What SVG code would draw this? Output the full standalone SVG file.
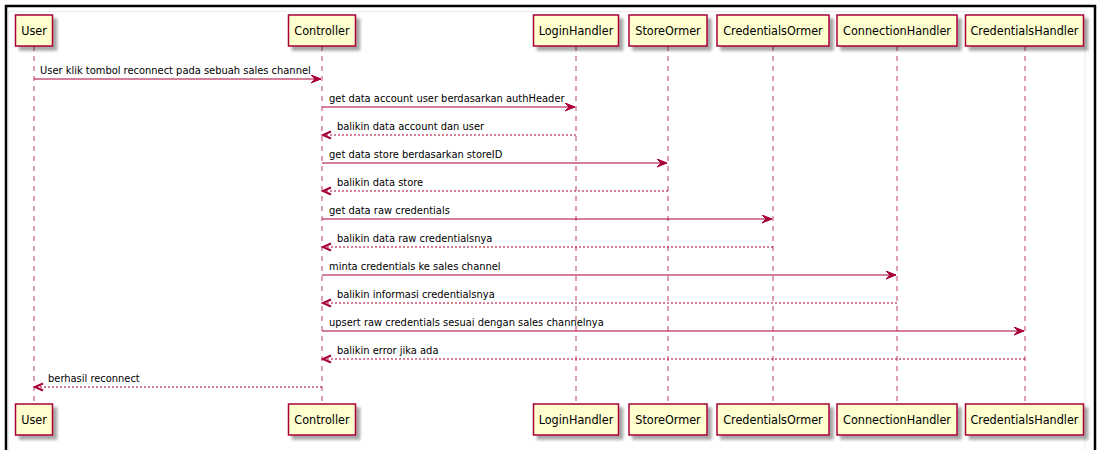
<svg xmlns="http://www.w3.org/2000/svg" width="1097" height="450" viewBox="0 0 1097 450">
  <defs>
    <filter id="shadow" x="-20%" y="-20%" width="150%" height="160%">
      <feGaussianBlur in="SourceAlpha" stdDeviation="1.8"/>
      <feOffset dx="4" dy="4" result="b"/>
      <feComponentTransfer><feFuncA type="linear" slope="0.35"/></feComponentTransfer>
      <feMerge><feMergeNode/><feMergeNode in="SourceGraphic"/></feMerge>
    </filter>
    <marker id="head" markerWidth="12" markerHeight="10" refX="10" refY="4" orient="auto" markerUnits="userSpaceOnUse">
      <polygon points="0,0 10,4 0,8 4,4" fill="#A80036" stroke="#A80036" stroke-width="1"/>
    </marker>
    <marker id="open" markerWidth="12" markerHeight="12" refX="9" refY="5" orient="auto" markerUnits="userSpaceOnUse">
      <polyline points="1,1.5 9,5 1,8.5" fill="none" stroke="#A80036" stroke-width="2"/>
    </marker>
  </defs>
  <style>
    .box { fill: #FEFECE; stroke: #A80036; stroke-width: 1.5; }
    .pname { font-family: "DejaVu Sans Condensed", "DejaVu Sans", sans-serif; font-stretch: condensed; font-size: 12.5px; fill: #000; text-anchor: middle; }
    .life { stroke: #A80036; stroke-width: 1; stroke-dasharray: 5,5; fill: none; opacity: 0.75; }
    .msg { stroke: #A80036; stroke-width: 1; fill: none; }
    .ret { stroke: #A80036; stroke-width: 1; fill: none; stroke-dasharray: 2,2; }
    .lbl { font-family: "DejaVu Sans Condensed", "DejaVu Sans", sans-serif; font-stretch: condensed; font-size: 11px; fill: #000; }
  </style>
  <rect x="0" y="0" width="1097" height="450" fill="#fff"/>
  <rect x="8.5" y="11.5" width="1076.5" height="450" fill="none" stroke="#ececec" stroke-width="1"/>
  <rect x="6" y="6" width="1089" height="500" fill="none" stroke="#000" stroke-width="2.5"/>

  <g id="lifelines">
    <line class="life" x1="34" y1="46" x2="34" y2="404"/>
    <line class="life" x1="322" y1="46" x2="322" y2="404"/>
    <line class="life" x1="576" y1="46" x2="576" y2="404"/>
    <line class="life" x1="668" y1="46" x2="668" y2="404"/>
    <line class="life" x1="773" y1="46" x2="773" y2="404"/>
    <line class="life" x1="897" y1="46" x2="897" y2="404"/>
    <line class="life" x1="1025" y1="46" x2="1025" y2="404"/>
  </g>

  <g id="User">
    <rect class="box" x="15.5" y="15" width="37" height="31" filter="url(#shadow)"/>
    <text class="pname" x="34" y="35">User</text>
    <rect class="box" x="15.5" y="404" width="37" height="31" filter="url(#shadow)"/>
    <text class="pname" x="34" y="424">User</text>
  </g>
  <g id="Controller">
    <rect class="box" x="288.5" y="15" width="67" height="31" filter="url(#shadow)"/>
    <text class="pname" x="322" y="35">Controller</text>
    <rect class="box" x="288.5" y="404" width="67" height="31" filter="url(#shadow)"/>
    <text class="pname" x="322" y="424">Controller</text>
  </g>
  <g id="LoginHandler">
    <rect class="box" x="533.5" y="15" width="85" height="31" filter="url(#shadow)"/>
    <text class="pname" x="576" y="35">LoginHandler</text>
    <rect class="box" x="533.5" y="404" width="85" height="31" filter="url(#shadow)"/>
    <text class="pname" x="576" y="424">LoginHandler</text>
  </g>
  <g id="StoreOrmer">
    <rect class="box" x="629" y="15" width="78" height="31" filter="url(#shadow)"/>
    <text class="pname" x="668" y="35">StoreOrmer</text>
    <rect class="box" x="629" y="404" width="78" height="31" filter="url(#shadow)"/>
    <text class="pname" x="668" y="424">StoreOrmer</text>
  </g>
  <g id="CredentialsOrmer">
    <rect class="box" x="717" y="15" width="112" height="31" filter="url(#shadow)"/>
    <text class="pname" x="773" y="35">CredentialsOrmer</text>
    <rect class="box" x="717" y="404" width="112" height="31" filter="url(#shadow)"/>
    <text class="pname" x="773" y="424">CredentialsOrmer</text>
  </g>
  <g id="ConnectionHandler">
    <rect class="box" x="837" y="15" width="120" height="31" filter="url(#shadow)"/>
    <text class="pname" x="897" y="35">ConnectionHandler</text>
    <rect class="box" x="837" y="404" width="120" height="31" filter="url(#shadow)"/>
    <text class="pname" x="897" y="424">ConnectionHandler</text>
  </g>
  <g id="CredentialsHandler">
    <rect class="box" x="965.5" y="15" width="118" height="31" filter="url(#shadow)"/>
    <text class="pname" x="1024.5" y="35">CredentialsHandler</text>
    <rect class="box" x="965.5" y="404" width="118" height="31" filter="url(#shadow)"/>
    <text class="pname" x="1024.5" y="424">CredentialsHandler</text>
  </g>

  <g id="connectors">
    <line class="msg" x1="34" y1="79" x2="321" y2="79" marker-end="url(#head)"/>
    <text class="lbl" x="40" y="73.5">User klik tombol reconnect pada sebuah sales channel</text>

    <line class="msg" x1="322" y1="107" x2="575" y2="107" marker-end="url(#head)"/>
    <text class="lbl" x="329" y="101.5">get data account user berdasarkan authHeader</text>

    <line class="ret" x1="576" y1="135" x2="323" y2="135" marker-end="url(#open)"/>
    <text class="lbl" x="337" y="129.5">balikin data account dan user</text>

    <line class="msg" x1="322" y1="163" x2="667" y2="163" marker-end="url(#head)"/>
    <text class="lbl" x="329" y="157.5">get data store berdasarkan storeID</text>

    <line class="ret" x1="668" y1="191" x2="323" y2="191" marker-end="url(#open)"/>
    <text class="lbl" x="337" y="185.5">balikin data store</text>

    <line class="msg" x1="322" y1="219" x2="772" y2="219" marker-end="url(#head)"/>
    <text class="lbl" x="329" y="213.5">get data raw credentials</text>

    <line class="ret" x1="773" y1="247" x2="323" y2="247" marker-end="url(#open)"/>
    <text class="lbl" x="337" y="241.5">balikin data raw credentialsnya</text>

    <line class="msg" x1="322" y1="275" x2="896" y2="275" marker-end="url(#head)"/>
    <text class="lbl" x="329" y="269.5">minta credentials ke sales channel</text>

    <line class="ret" x1="897" y1="303" x2="323" y2="303" marker-end="url(#open)"/>
    <text class="lbl" x="337" y="297.5">balikin informasi credentialsnya</text>

    <line class="msg" x1="322" y1="331" x2="1024" y2="331" marker-end="url(#head)"/>
    <text class="lbl" x="329" y="325.5">upsert raw credentials sesuai dengan sales channelnya</text>

    <line class="ret" x1="1025" y1="359" x2="323" y2="359" marker-end="url(#open)"/>
    <text class="lbl" x="337" y="353.5">balikin error jika ada</text>

    <line class="ret" x1="322" y1="387" x2="35" y2="387" marker-end="url(#open)"/>
    <text class="lbl" x="48" y="381.5">berhasil reconnect</text>
  </g>
</svg>
